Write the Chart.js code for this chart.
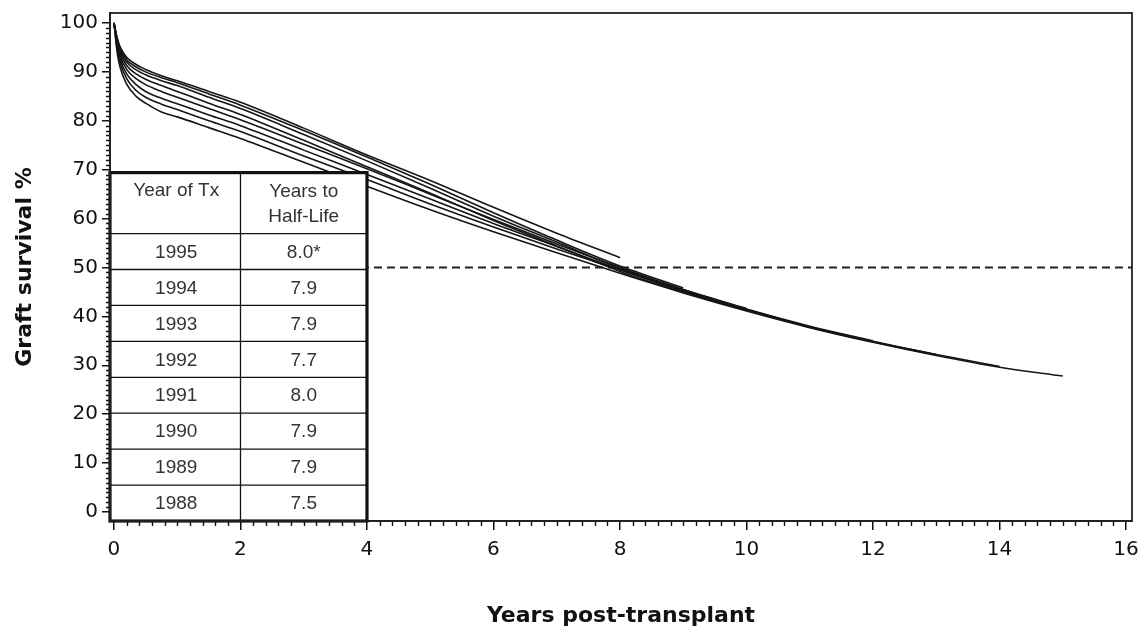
<!DOCTYPE html>
<html>
<head>
<meta charset="utf-8">
<script src="https://cdn.jsdelivr.net/npm/chart.js@4.4.1/dist/chart.umd.min.js"></script>
<style>
  html, body { margin: 0; padding: 0; background: #fff; }
  #wrap { width: 1139px; height: 635px; position: relative; }
</style>
</head>
<body>
<div id="wrap"><canvas id="survivalChart"></canvas></div>
<script>
// years post-transplant where each curve is sampled
const timePoints = [0, 0.05, 0.1, 0.2, 0.35, 0.5, 0.75, 1, 1.5, 2, 3, 4, 5, 6, 7, 8, 9, 10, 11, 12, 13, 14, 15];

// graft survival % per transplant year (each one stops at its follow-up)
const survival1995 = [100, 97, 95, 93, 91.5, 90.5, 89.2, 88.2, 86, 83.8, 78.5, 73, 67.8, 62.3, 57, 52];
const survival1994 = [100, 96.8, 94.7, 92.5, 91, 90, 88.8, 87.8, 85.5, 83.2, 78, 72.6, 67, 61.2, 55.6, 50.3, 45.8];
const survival1993 = [100, 96.5, 94.3, 92, 90.4, 89.4, 88.2, 87.2, 84.8, 82.5, 77.2, 71.8, 66.2, 60.5, 55.2, 49.8, 45.5, 41.6];
const survival1992 = [100, 96.2, 93.8, 91.3, 89.6, 88.5, 87.2, 86, 83.6, 81.3, 76, 70.6, 65.2, 59.6, 54.4, 49.2, 45, 41.3, 37.8];
const survival1991 = [100, 95.8, 93.2, 90.5, 88.6, 87.4, 86, 84.8, 82.5, 80.2, 75.2, 70.2, 65, 59.8, 54.8, 50, 45.5, 41.5, 38, 35];
const survival1990 = [100, 95.3, 92.5, 89.6, 87.4, 86, 84.6, 83.5, 81.2, 79, 74, 69, 64, 59, 54.3, 49.6, 45.3, 41.4, 37.8, 34.8, 32.2];
const survival1989 = [100, 94.8, 91.8, 88.6, 86.2, 84.8, 83.4, 82.3, 80, 77.8, 72.8, 68, 63, 58.3, 53.8, 49.5, 45.2, 41.4, 37.9, 34.9, 32.2, 29.8];
const survival1988 = [100, 94, 90.8, 87.5, 85, 83.6, 81.8, 80.8, 78.6, 76.4, 71.5, 66.6, 61.8, 57.3, 53, 48.8, 44.8, 41.1, 37.7, 34.7, 32, 29.6, 27.8];

// inset table
const cohortYears = ['1995', '1994', '1993', '1992', '1991', '1990', '1989', '1988'];
const halfLifeYears = ['8.0*', '7.9', '7.9', '7.7', '8.0', '7.9', '7.9', '7.5'];

const xTicks = [0, 2, 4, 6, 8, 10, 12, 14, 16];
const yTicks = [0, 10, 20, 30, 40, 50, 60, 70, 80, 90, 100];
const halfLineLevel = 50;

document.addEventListener('DOMContentLoaded', () => {
    const cohortSeries = [survival1995, survival1994, survival1993, survival1992,
                          survival1991, survival1990, survival1989, survival1988];

    const datasets = cohortSeries.map((serie, i) => ({
        label: cohortYears[i],
        data: serie.map((v, j) => ({x: timePoints[j], y: v})),
        borderColor: '#151515',
        borderWidth: 1.6,
        pointRadius: 0,
        cubicInterpolationMode: 'monotone'
    }));

    datasets.push({
        label: '50%',
        data: [{x: 0, y: halfLineLevel}, {x: 16.1, y: halfLineLevel}],
        borderColor: '#222',
        borderWidth: 2,
        borderDash: [8, 5],
        pointRadius: 0
    });

    // inset table "Year of Tx / Years to Half-Life"
    const tablePlugin = {
        id: 'halfLifeTable',
        afterDatasetsDraw(chart) {
            const {ctx, chartArea, scales: {x, y}} = chart;
            const left = chartArea.left;
            const mid = x.getPixelForValue(2);
            const right = x.getPixelForValue(4);
            const top = y.getPixelForValue(69.4);
            const bottom = chartArea.bottom;
            const headerH = (bottom - top) * 0.175;
            const rowH = (bottom - top - headerH) / cohortYears.length;

            ctx.save();
            ctx.fillStyle = '#fff';
            ctx.fillRect(left, top, right - left, bottom - top);

            ctx.strokeStyle = '#111';
            ctx.lineWidth = 1.3;
            ctx.beginPath();
            ctx.moveTo(mid, top);
            ctx.lineTo(mid, bottom);
            for (let i = 0; i < cohortYears.length; i++) {
                const yy = top + headerH + i * rowH;
                ctx.moveTo(left, yy);
                ctx.lineTo(right, yy);
            }
            ctx.stroke();

            ctx.lineWidth = 3.2;
            ctx.strokeRect(left, top, right - left, bottom - top);

            ctx.fillStyle = '#333';
            ctx.font = '19px "Liberation Sans", Arial, sans-serif';
            ctx.textAlign = 'center';
            ctx.textBaseline = 'middle';
            const c1 = (left + mid) / 2 + 1;
            const c2 = (mid + right) / 2;
            ctx.fillText('Year of Tx', c1, top + 18);
            ctx.fillText('Years to', c2, top + 19);
            ctx.fillText('Half-Life', c2, top + 44);
            cohortYears.forEach((yr, i) => {
                const yy = top + headerH + (i + 0.5) * rowH + 1;
                ctx.fillText(yr, c1, yy);
                ctx.fillText(halfLifeYears[i], c2, yy);
            });
            ctx.restore();
        },
        afterDraw(chart) {
            const {ctx, chartArea, scales: {x, y}} = chart;
            ctx.save();
            ctx.strokeStyle = '#111';
            ctx.lineWidth = 1.4;
            ctx.beginPath();
            // minor ticks
            for (let v = 0; v <= 100; v += 1) {
                if (v % 10 === 0) continue;
                const py = Math.round(y.getPixelForValue(v)) + 0.5;
                ctx.moveTo(chartArea.left, py);
                ctx.lineTo(chartArea.left - 4, py);
            }
            for (let k = 0; k <= 80; k++) {
                if (k % 10 === 0) continue;
                const px = Math.round(x.getPixelForValue(k * 0.2)) + 0.5;
                ctx.moveTo(px, chartArea.bottom);
                ctx.lineTo(px, chartArea.bottom + 5);
            }
            ctx.stroke();
            ctx.strokeStyle = '#222';
            ctx.lineWidth = 1.8;
            ctx.strokeRect(chartArea.left, chartArea.top, chartArea.right - chartArea.left, chartArea.bottom - chartArea.top);
            ctx.restore();
        }
    };

    const ctx = document.getElementById('survivalChart').getContext('2d');
    new Chart(ctx, {
        type: 'line',
        data: {datasets},
        plugins: [tablePlugin],
        options: {
            responsive: true,
            maintainAspectRatio: false,
            animation: false,
            layout: {padding: {left: 0, top: 13, right: 7, bottom: 0}},
            plugins: {
                legend: {display: false},
                tooltip: {enabled: false}
            },
            scales: {
                x: {
                    type: 'linear',
                    min: -0.063,
                    max: 16.095,
                    afterBuildTicks: (scale) => { scale.ticks = xTicks.map(v => ({value: v})); },
                    afterFit: (scale) => {
                        scale.height = 114;
                        scale.paddingLeft = 0;
                        scale.paddingRight = 0;
                    },
                    grid: {drawOnChartArea: false, tickLength: 9, color: '#111', lineWidth: 1.5},
                    border: {color: '#111', width: 1.8},
                    ticks: {
                        color: '#111',
                        padding: 8,
                        maxRotation: 0,
                        font: {family: '"DejaVu Sans", sans-serif', size: 20}
                    },
                    title: {
                        display: true,
                        text: 'Years post-transplant',
                        color: '#111',
                        padding: {top: 0, bottom: 6},
                        font: {family: '"DejaVu Sans", sans-serif', size: 22, weight: 'bold'}
                    }
                },
                y: {
                    min: -1.84,
                    max: 102.04,
                    afterBuildTicks: (scale) => { scale.ticks = yTicks.map(v => ({value: v})); },
                    afterFit: (scale) => {
                        scale.width = 110;
                        scale.paddingTop = 0;
                        scale.paddingBottom = 0;
                    },
                    grid: {drawOnChartArea: false, tickLength: 8, color: '#111', lineWidth: 1.5},
                    border: {color: '#111', width: 1.8},
                    ticks: {
                        color: '#111',
                        padding: 4,
                        font: {family: '"DejaVu Sans", sans-serif', size: 20}
                    },
                    title: {
                        display: true,
                        text: 'Graft survival %',
                        color: '#111',
                        padding: {top: 12, bottom: 0},
                        font: {family: '"DejaVu Sans", sans-serif', size: 22, weight: 'bold'}
                    }
                }
            }
        }
    });
});
</script>
</body>
</html>
